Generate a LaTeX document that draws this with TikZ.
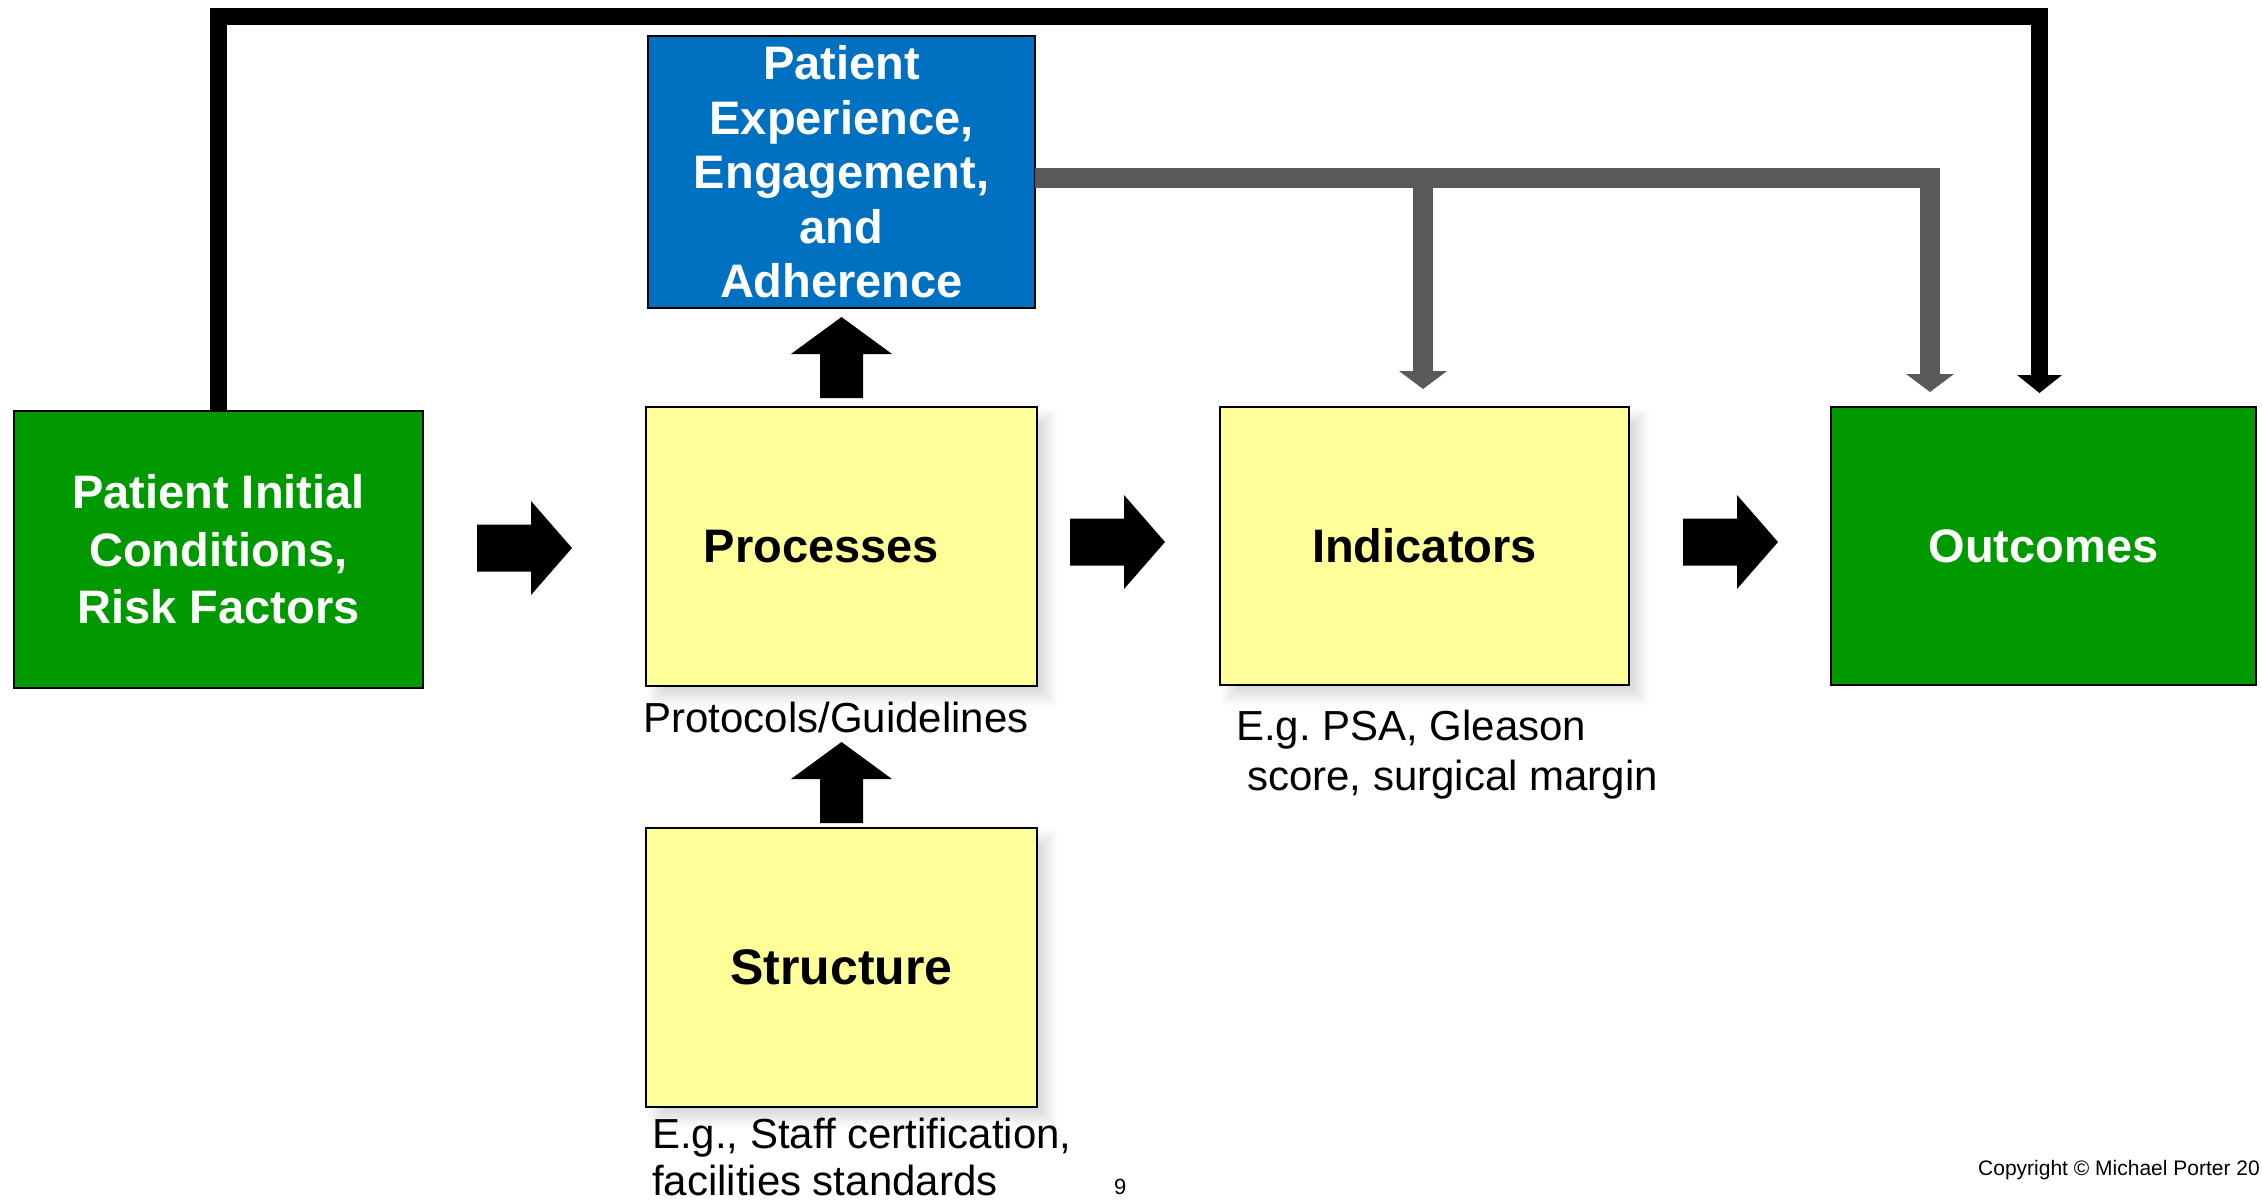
\documentclass[tikz,border=0pt]{standalone}
\usepackage{fontspec}
\setmainfont{Liberation Sans}
\usetikzlibrary{arrows.meta,calc}
\definecolor{pgreen}{HTML}{009900}
\definecolor{pblue}{HTML}{0070C0}
\definecolor{pyellow}{HTML}{FFFF99}
\definecolor{pgrey}{HTML}{595959}
\newcommand\fsz[2]{\fontsize{#1pt}{#2pt}\selectfont}
\frenchspacing
\pgfdeclarelayer{bg}
\pgfsetlayers{bg,main}
\tikzset{
  box/.style={draw=black, line width=2pt, inner sep=0pt, outer sep=0pt},
  greenbox/.style={box, fill=pgreen, text=white, align=center, font=\bfseries\fsz{47}{57.5}},
  bluebox/.style={box, fill=pblue, text=white, align=center, font=\bfseries\fsz{47}{54.5}},
  yellowbox/.style={box, fill=pyellow, text=black, font=\bfseries\fsz{47}{56}},
  caption/.style={inner sep=0pt, outer sep=0pt, text=black, font=\fsz{42}{50}},
  feedback/.style={draw=black, line width=17pt, line join=miter,
    -{Triangle[width=45pt,length=18pt,line width=0pt]}},
  greyconn/.style={draw=pgrey, line width=20pt, line join=miter,
    -{Triangle[width=48pt,length=18pt,line width=0pt]}},
  pics/harrow/.style={code={\fill[black] (0,0) -- (-41,-47) -- (-41,-23.5) -- (-95,-23.5) -- (-95,23.5) -- (-41,23.5) -- (-41,47) -- cycle;}},
  pics/uarrow/.style={code={\fill[black] (0,0) -- (-50.5,37) -- (-21.5,37) -- (-21.5,81) -- (21.5,81) -- (21.5,37) -- (50.5,37) -- cycle;}},
}
\begin{document}
\frenchspacing
\begin{tikzpicture}[x=1pt,y=-1pt]
\useasboundingbox (0,0) rectangle (2262,1200);

% boxes
\node[greenbox, minimum width=409pt, minimum height=277pt] (init) at (218.5,549.5) {Patient Initial\\Conditions,\\Risk Factors};
\node[bluebox, minimum width=387pt, minimum height=272pt] (pexp) at (841.5,172) {Patient\\Experience,\\Engagement,\\and\\Adherence};
\node[yellowbox, minimum width=391pt, minimum height=279pt] (proc) at (841.5,546.5) {Processes\rule{40pt}{0pt}};
\node[yellowbox, minimum width=409pt, minimum height=278pt] (ind) at (1424.5,546) {Indicators};
\node[greenbox, minimum width=425pt, minimum height=278pt] (out) at (2043.5,546) {Outcomes};
\node[yellowbox, font=\bfseries\fsz{50}{60}, minimum width=391pt, minimum height=279pt] (struct) at (841.5,967.5) {Structure};

% soft shadows
\begin{pgfonlayer}{bg}
\foreach \n in {proc,ind,struct}{
  \foreach \k in {2,4,...,20}{
    \fill[black,opacity=0.014] ($(\n.north west)+(22-\k,22-\k)$) rectangle ($(\n.south east)+(\k,\k)$);
  }
}
\end{pgfonlayer}

% block arrows
\coordinate (t1) at ($(proc.west)+(-74,1.5)$);
\coordinate (t2) at ($(ind.west)+(-55,-4)$);
\coordinate (t3) at ($(out.west)+(-53,-4)$);
\coordinate (t4) at ($(pexp.south)+(0,9)$);
\coordinate (t5) at ($(struct.north)+(0,-86)$);
\pic at (t1) {harrow};
\pic at (t2) {harrow};
\pic at (t3) {harrow};
\pic at (t4) {uarrow};
\pic at (t5) {uarrow};

% feedback connector
\coordinate (fbtop) at (2039.5,16.5);
\draw[feedback, shorten >=14pt] (init.north) |- (fbtop) -- (fbtop |- out.north);

% grey connectors
\coordinate (gtr) at (1930,178);
\coordinate (gbr) at (1423,178);
\draw[greyconn, shorten >=15pt] (pexp.east |- gtr) -- (gtr) -- (gtr |- out.north);
\draw[greyconn, shorten >=18pt] (gbr) -- (gbr |- ind.north);

% captions
\node[caption, anchor=base] (protxt) at (836,732) {Protocols/Guidelines};
\node[caption, anchor=base west] (indc1) at (1236,740) {E.g. PSA, Gleason};
\node[caption, anchor=base west] (indc2) at (1247,790) {score, surgical margin};
\node[caption, anchor=base west] (stc1) at (652,1148) {E.g., Staff certification,};
\node[caption, anchor=base west] (stc2) at (652,1195) {facilities standards};
\node[inner sep=0pt, font=\fsz{22}{26}, anchor=base west] (pnum) at (1114,1194) {9};
\node[inner sep=0pt, font=\fsz{21}{25}, anchor=base west] (copyr) at (1978,1175) {Copyright © Michael Porter 20};
\end{tikzpicture}
\end{document}
